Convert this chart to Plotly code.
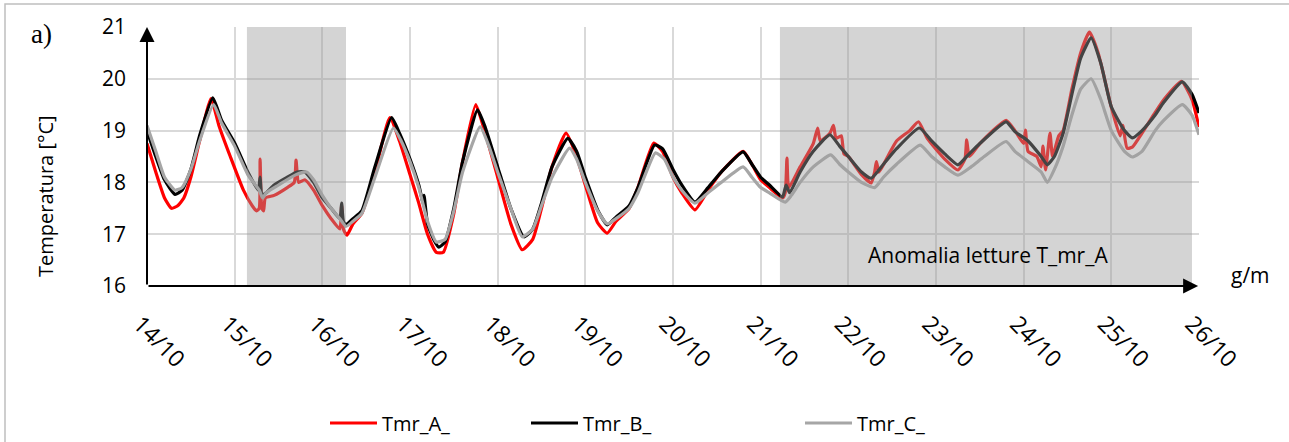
import pandas as pd
import plotly.graph_objects as go

# ---------------- data (days after 14/10 00:00, temperature °C) ----------------
day_A = [0.00, 0.10, 0.20, 0.28, 0.35, 0.42, 0.50, 0.60, 0.73, 0.82, 0.95, 1.10, 1.20, 1.25, 1.28, 1.29, 1.31,
         1.33, 1.35, 1.45, 1.60, 1.68, 1.70, 1.73, 1.80, 1.90, 2.00, 2.10, 2.20, 2.22, 2.24, 2.28, 2.35, 2.45,
         2.60, 2.77, 2.88, 3.00, 3.10, 3.20, 3.30, 3.38, 3.50, 3.60, 3.75, 3.85, 4.00, 4.15, 4.28, 4.40, 4.50,
         4.62, 4.78, 4.90, 5.00, 5.14, 5.25, 5.35, 5.50, 5.60, 5.78, 5.88, 6.00, 6.10, 6.25, 6.40, 6.55, 6.80,
         6.90, 7.00, 7.10, 7.25, 7.28, 7.30, 7.32, 7.45, 7.60, 7.65, 7.68, 7.79, 7.83, 7.86, 7.92, 7.95, 8.00,
         8.15, 8.26, 8.30, 8.32, 8.35, 8.45, 8.55, 8.70, 8.80, 8.90, 9.10, 9.25, 9.33, 9.35, 9.38, 9.50, 9.80,
         9.90, 10.00, 10.02, 10.05, 10.15, 10.20, 10.22, 10.25, 10.30, 10.33, 10.40, 10.45, 10.55, 10.65,
         10.75, 10.85, 11.00, 11.10, 11.13, 11.18, 11.24, 11.35, 11.50, 11.60, 11.80, 11.92, 12.00]
tmr_A = [18.75, 18.20, 17.70, 17.50, 17.55, 17.70, 18.10, 18.80, 19.62, 19.10, 18.50, 17.85, 17.55, 17.45, 17.50,
         18.45, 17.50, 17.45, 17.70, 17.75, 17.90, 18.00, 18.43, 18.00, 18.05, 17.85, 17.55, 17.30, 17.10, 17.55,
         17.10, 16.98, 17.20, 17.40, 18.20, 19.25, 18.80, 18.15, 17.60, 17.00, 16.65, 16.65, 17.40, 18.40, 19.50,
         19.00, 18.10, 17.20, 16.70, 16.90, 17.50, 18.30, 18.95, 18.50, 17.95, 17.22, 17.02, 17.25, 17.50, 17.90,
         18.76, 18.60, 18.10, 17.80, 17.47, 17.85, 18.20, 18.60, 18.35, 18.05, 17.90, 17.70, 17.80, 18.47, 17.90,
         18.30, 18.75, 19.05, 18.80, 18.95, 19.10, 18.85, 18.90, 18.55, 18.50, 18.15, 17.99, 18.20, 18.40, 18.20,
         18.50, 18.80, 19.00, 19.17, 18.85, 18.45, 18.24, 18.45, 18.82, 18.50, 18.75, 19.20, 19.00, 18.75, 19.01,
         18.60, 18.50, 18.30, 18.70, 18.24, 18.95, 18.50, 18.90, 19.00, 19.80, 20.50, 20.90, 20.50, 19.45, 18.90,
         19.10, 18.66, 18.68, 18.95, 19.35, 19.60, 19.95, 19.60, 19.07]

day_B = [0.00, 0.10, 0.20, 0.32, 0.40, 0.50, 0.60, 0.75, 0.85, 1.00, 1.15, 1.27, 1.29, 1.31, 1.36, 1.45, 1.60,
         1.71, 1.80, 1.90, 2.00, 2.10, 2.20, 2.22, 2.24, 2.27, 2.35, 2.45, 2.60, 2.79, 2.88, 3.00, 3.10, 3.15,
         3.16, 3.20, 3.27, 3.33, 3.40, 3.50, 3.60, 3.77, 3.85, 4.00, 4.15, 4.30, 4.40, 4.50, 4.62, 4.80, 4.90,
         5.00, 5.14, 5.25, 5.35, 5.50, 5.60, 5.79, 5.88, 6.00, 6.10, 6.25, 6.40, 6.55, 6.80, 6.90, 7.00, 7.10,
         7.25, 7.29, 7.33, 7.45, 7.60, 7.79, 7.90, 8.00, 8.15, 8.26, 8.40, 8.55, 8.81, 8.95, 9.10, 9.25, 9.35,
         9.50, 9.80, 9.90, 10.05, 10.20, 10.27, 10.35, 10.45, 10.55, 10.65, 10.77, 10.88, 11.00, 11.15, 11.24,
         11.35, 11.50, 11.60, 11.81, 11.92, 12.00]
tmr_B = [19.00, 18.50, 18.05, 17.77, 17.85, 18.25, 18.90, 19.63, 19.20, 18.76, 18.20, 17.85, 18.10, 17.75, 17.80,
         17.95, 18.10, 18.20, 18.20, 18.00, 17.70, 17.50, 17.30, 17.60, 17.25, 17.18, 17.30, 17.45, 18.30, 19.25,
         18.95, 18.45, 17.95, 17.60, 17.75, 17.20, 16.90, 16.75, 16.85, 17.50, 18.40, 19.40, 19.10, 18.30, 17.50,
         16.95, 17.10, 17.60, 18.30, 18.85, 18.60, 18.10, 17.47, 17.18, 17.33, 17.55, 17.90, 18.72, 18.65, 18.25,
         17.95, 17.62, 17.90, 18.20, 18.59, 18.35, 18.10, 17.95, 17.72, 17.95, 17.80, 18.20, 18.60, 18.92, 18.70,
         18.50, 18.20, 18.08, 18.35, 18.65, 19.05, 18.80, 18.55, 18.34, 18.50, 18.75, 19.17, 18.98, 18.80, 18.50,
         18.34, 18.50, 18.95, 19.70, 20.40, 20.79, 20.30, 19.46, 19.00, 18.86, 19.00, 19.30, 19.55, 19.94, 19.70,
         19.34]

day_C = [0.00, 0.10, 0.20, 0.32, 0.40, 0.50, 0.60, 0.76, 0.85, 1.00, 1.15, 1.28, 1.32, 1.36, 1.50, 1.70, 1.82,
         1.90, 2.00, 2.10, 2.20, 2.27, 2.35, 2.45, 2.60, 2.81, 2.90, 3.00, 3.10, 3.20, 3.30, 3.40, 3.50, 3.60,
         3.80, 3.90, 4.00, 4.15, 4.28, 4.40, 4.50, 4.62, 4.82, 4.90, 5.00, 5.14, 5.25, 5.35, 5.50, 5.60, 5.80,
         5.90, 6.00, 6.10, 6.25, 6.40, 6.55, 6.80, 6.90, 7.00, 7.10, 7.28, 7.35, 7.45, 7.60, 7.80, 7.90, 8.00,
         8.15, 8.30, 8.40, 8.55, 8.82, 8.95, 9.10, 9.25, 9.40, 9.55, 9.80, 9.90, 10.05, 10.20, 10.27, 10.35,
         10.45, 10.55, 10.65, 10.77, 10.88, 11.00, 11.15, 11.24, 11.35, 11.50, 11.60, 11.81, 11.92, 12.00]
tmr_C = [19.10, 18.60, 18.10, 17.85, 17.90, 18.25, 18.80, 19.50, 19.15, 18.70, 18.15, 17.85, 17.70, 17.80, 17.95,
         18.15, 18.20, 18.05, 17.75, 17.50, 17.30, 17.15, 17.25, 17.40, 18.10, 19.05, 18.80, 18.40, 17.90, 17.25,
         16.85, 16.90, 17.45, 18.20, 19.07, 18.70, 18.20, 17.50, 16.95, 17.10, 17.55, 18.10, 18.66, 18.45, 18.00,
         17.45, 17.20, 17.30, 17.50, 17.80, 18.57, 18.45, 18.10, 17.85, 17.60, 17.80, 18.00, 18.30, 18.10, 17.90,
         17.80, 17.62, 17.75, 18.00, 18.30, 18.53, 18.35, 18.20, 18.00, 17.90, 18.10, 18.35, 18.72, 18.50, 18.30,
         18.14, 18.30, 18.50, 18.79, 18.60, 18.40, 18.20, 18.00, 18.25, 18.70, 19.30, 19.80, 20.00, 19.60, 19.00,
         18.60, 18.49, 18.60, 19.00, 19.20, 19.50, 19.30, 18.92]

series_names = ["Tmr_A_", "Tmr_B_", "Tmr_C_"]
anomaly_periods = [(1.14, 2.27), (7.22, 11.92)]  # days after 14/10
y_ticks = [16, 17, 18, 19, 20, 21]

# ---------------- figure ----------------
start = pd.Timestamp("2019-10-14 00:00")
def to_dt(days):
    return start + pd.to_timedelta(days, unit="D")

FONT = "Open Sans"
fig = go.Figure()
colors = ["#ff0000", "#000000", "#a6a6a6"]
legends = ["legend", "legend2", "legend3"]
for name, d, v, c, lg in zip(series_names, [day_A, day_B, day_C], [tmr_A, tmr_B, tmr_C], colors, legends):
    fig.add_trace(go.Scatter(x=to_dt(d), y=v, mode="lines", name=name,
                             line=dict(color=c, width=3.2, shape="spline", smoothing=0.5), legend=lg))

for a, b in anomaly_periods:
    fig.add_shape(type="rect", xref="x", yref="y", x0=to_dt(a), x1=to_dt(b), y0=16, y1=21,
                  fillcolor="rgba(156,156,156,0.435)", line=dict(width=0), layer="above")

L, R, T, B = 147, 90, 27, 156
W, H = 1289, 442
pw, ph = W - L - R, H - T - B
def px(xp):
    return (xp - L) / pw
def py(yp):
    return (H - B - yp) / ph

# outer frame (left and top edges visible)
fig.add_shape(type="rect", xref="paper", yref="paper", x0=px(5), x1=px(1400), y0=py(600), y1=py(4),
              line=dict(color="#bfbfbf", width=1.5), fillcolor="rgba(0,0,0,0)", layer="below")

# axes with arrowheads
fig.add_annotation(x=to_dt(0), y=21.0, ax=to_dt(0), ay=16, xref="x", yref="y", axref="x", ayref="y",
                   text="", showarrow=True, arrowhead=2, arrowsize=1.5, arrowwidth=2, arrowcolor="black")
fig.add_annotation(x=to_dt(11.99), y=16, ax=to_dt(0), ay=16, xref="x", yref="y", axref="x", ayref="y",
                   text="", showarrow=True, arrowhead=2, arrowsize=1.5, arrowwidth=2, arrowcolor="black")

fig.add_annotation(x=px(988), y=py(255), xref="paper", yref="paper", text="Anomalia letture T_mr_A",
                   xanchor="center", yanchor="middle",
                   showarrow=False, font=dict(family=FONT, size=21, color="#000000"))
fig.add_annotation(x=px(1250), y=py(275), xref="paper", yref="paper", text="g/m",
                   xanchor="center", yanchor="middle",
                   showarrow=False, font=dict(family=FONT, size=21, color="#000000"))
fig.add_annotation(x=px(41), y=py(34), xref="paper", yref="paper", text="a)",
                   xanchor="center", yanchor="middle",
                   showarrow=False, font=dict(family="Liberation Serif", size=27, color="#000000"))
fig.add_annotation(x=px(45), y=py(196), xref="paper", yref="paper", text="Temperatura [°C]",
                   xanchor="center", yanchor="middle",
                   textangle=-90, showarrow=False, font=dict(family=FONT, size=20, color="#000000"))

fig.update_xaxes(type="date", range=[to_dt(0), to_dt(12)], dtick=86400000, tick0=to_dt(0),
                 tickformat="%d/%m", tickangle=45, showgrid=True, gridcolor="#d9d9d9", gridwidth=2,
                 showline=False, zeroline=False, ticks="", automargin=False,
                 ticklabelstandoff=19, ticklabelshift=-7,
                 tickfont=dict(family=FONT, size=23, color="#000000"))
fig.update_yaxes(range=[16, 21], tickvals=y_ticks, showgrid=True, gridcolor="#d9d9d9", gridwidth=2,
                 showline=False, zeroline=False, ticks="", ticklabelstandoff=20, automargin=False,
                 tickfont=dict(family=FONT, size=21, color="#000000"))

leg_common = dict(orientation="h", yanchor="middle", xanchor="left", bgcolor="rgba(0,0,0,0)",
                  font=dict(family=FONT, size=20, color="#000000"), itemwidth=47)
fig.update_layout(
    width=W, height=H, margin=dict(l=L, r=R, t=T, b=B, autoexpand=False),
    paper_bgcolor="white", plot_bgcolor="white", showlegend=True,
    legend=dict(x=px(325), y=py(423), **leg_common),
    legend2=dict(x=px(526), y=py(423), **leg_common),
    legend3=dict(x=px(800), y=py(423), **leg_common),
)

fig.write_html("out.html")
